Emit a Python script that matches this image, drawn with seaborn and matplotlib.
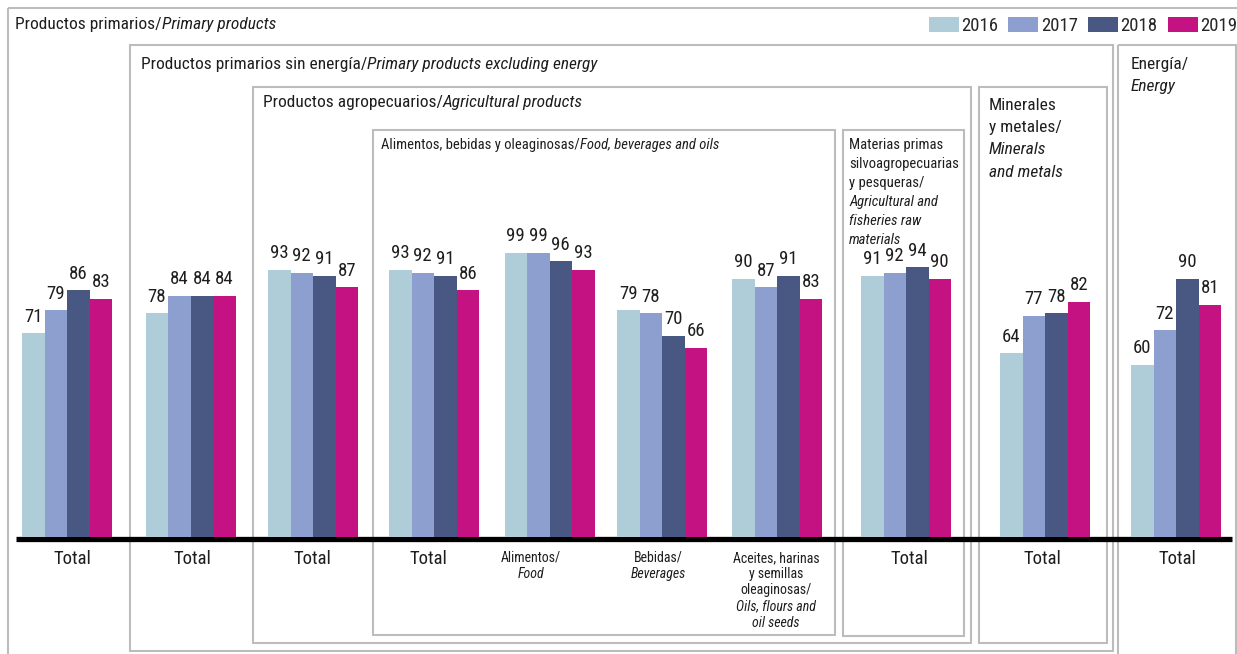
import matplotlib
matplotlib.use("Agg")
import matplotlib.pyplot as plt
from matplotlib import font_manager
from matplotlib.patches import Rectangle
import seaborn as sns
import pandas as pd

# data
groups = ["Primarios", "Sin energía", "Agropecuarios", "Alimentos total", "Alimentos",
          "Bebidas", "Aceites", "Materias primas", "Minerales", "Energía"]
years = ["2016", "2017", "2018", "2019"]
v2016 = [71, 78, 93, 93, 99, 79, 90, 91, 64, 60]
v2017 = [79, 84, 92, 92, 99, 78, 87, 92, 77, 72]
v2018 = [86, 84, 91, 91, 96, 70, 91, 94, 78, 90]
v2019 = [83, 84, 87, 86, 93, 66, 83, 90, 82, 81]
colors = ["#afcdd8", "#8d9fcf", "#495783", "#c51283"]

# category labels: (roman lines, italic lines)
cat_labels = [
    (["Total"], []), (["Total"], []), (["Total"], []), (["Total"], []),
    (["Alimentos/"], ["Food"]),
    (["Bebidas/"], ["Beverages"]),
    (["Aceites, harinas", "y semillas", "oleaginosas/"], ["Oils, flours and", "oil seeds"]),
    (["Total"], []), (["Total"], []), (["Total"], []),
]

# layout (pixels)
W, H = 1237, 654
group_x = [67, 190.5, 313, 434, 549.5, 662, 777, 906, 1045, 1176]
label_x = [72, 192, 312, 428, 531, 658, 776, 909, 1042, 1177]
base_y = 537
unit_px = 2.87

# pick a narrow font if there is one, otherwise shrink Liberation Sans a bit
font, fs = "Liberation Sans", 0.88
for name in ["Roboto Condensed", "Liberation Sans Narrow", "Arial Narrow"]:
    try:
        font_manager.findfont(name, fallback_to_default=False)
        font, fs = name, 1.0
        break
    except Exception:
        pass

sns.set_style("white")
plt.rcParams["font.family"] = [font, "DejaVu Sans"]
TXT = "#1e1e1e"

fig = plt.figure(figsize=(W / 100, H / 100), dpi=100)

ov = fig.add_axes([0, 0, 1, 1])
ov.set_xlim(0, W)
ov.set_ylim(H, 0)
ov.axis("off")

ax = fig.add_axes([0, (H - base_y) / H, 1, 100 * unit_px / H])
ax.set_zorder(2)

df = pd.DataFrame({
    "pos": group_x * 4,
    "value": v2016 + v2017 + v2018 + v2019,
    "year": sum([[y] * len(groups) for y in years], []),
})
sns.barplot(data=df, x="pos", y="value", hue="year", native_scale=True,
            width=0.8, palette=colors, saturation=1, errorbar=None,
            linewidth=0, ax=ax)
ax.set_xlim(0, W)
ax.set_ylim(0, 100)

for c in ax.containers:
    ax.bar_label(c, fmt="%d", padding=5.5, fontsize=13.5 * fs, color=TXT)

handles, labels = ax.get_legend_handles_labels()
ax.legend(handles, labels, loc="upper right", ncol=4, frameon=False,
          bbox_to_anchor=(1.0, 1 - 17 / H), bbox_transform=fig.transFigure,
          fontsize=13.5 * fs, handlelength=1.6 / fs, handleheight=0.8 / fs,
          handletextpad=0.12, columnspacing=0.55, borderpad=0, borderaxespad=0)
ax.axis("off")

# thick baseline
ov.plot([16, 1232], [538.5, 538.5], color="black", lw=3.8, solid_capstyle="butt", zorder=3)

# nested boxes
box_col = "#bcbcbc"
boxes = [(8, 8, 1245, 660), (130, 45, 1113, 651), (253, 87, 971, 643),
         (373, 130, 835, 635), (843, 130, 964, 636), (979, 87, 1107, 643),
         (1118, 45, 1236, 660)]
for x0, y0, x1, y1 in boxes:
    ov.add_patch(Rectangle((x0, y0), x1 - x0, y1 - y0, fill=False, ec=box_col,
                           lw=1.5, clip_on=False))


def mixed(x, y, roman, italic, size):
    t = ov.text(x, y, roman, fontsize=size * fs, va="center", ha="left", color=TXT)
    ov.annotate(italic, xy=(1, 0.5), xycoords=t, va="center", ha="left",
                fontsize=size * fs, style="italic", color=TXT)


mixed(15, 25, "Productos primarios/", "Primary products", 12.5)
mixed(141, 64, "Productos primarios sin energía/", "Primary products excluding energy", 12.5)
mixed(263, 103, "Productos agropecuarios/", "Agricultural products", 12.5)
mixed(381, 145, "Alimentos, bebidas y oleaginosas/", "Food, beverages and oils", 10.5)


def stacked(x, y, roman, italic, size, step, ha="left"):
    lines = [(r, "normal") for r in roman] + [(i, "italic") for i in italic]
    for k, (s, st) in enumerate(lines):
        ov.text(x, y + k * step, s, fontsize=size * fs, style=st, va="center", ha=ha,
                color=TXT)


stacked(849, 145, ["Materias primas", "silvoagropecuarias", "y pesqueras/"],
        ["Agricultural and", "fisheries raw", "materials"], 10.5, 19)
stacked(989, 105, ["Minerales", "y metales/"], ["Minerals", "and metals"], 12.5, 22.5)
stacked(1131, 64, ["Energía/"], ["Energy"], 12.5, 22.5)

for lx, (rom, ita) in zip(label_x, cat_labels):
    if rom == ["Total"]:
        ov.text(lx, 558.5, "Total", fontsize=13.5 * fs, ha="center", va="center", color=TXT)
    else:
        stacked(lx, 558, rom, ita, 10, 16.2, ha="center")

fig.savefig("out.png", dpi=100)
